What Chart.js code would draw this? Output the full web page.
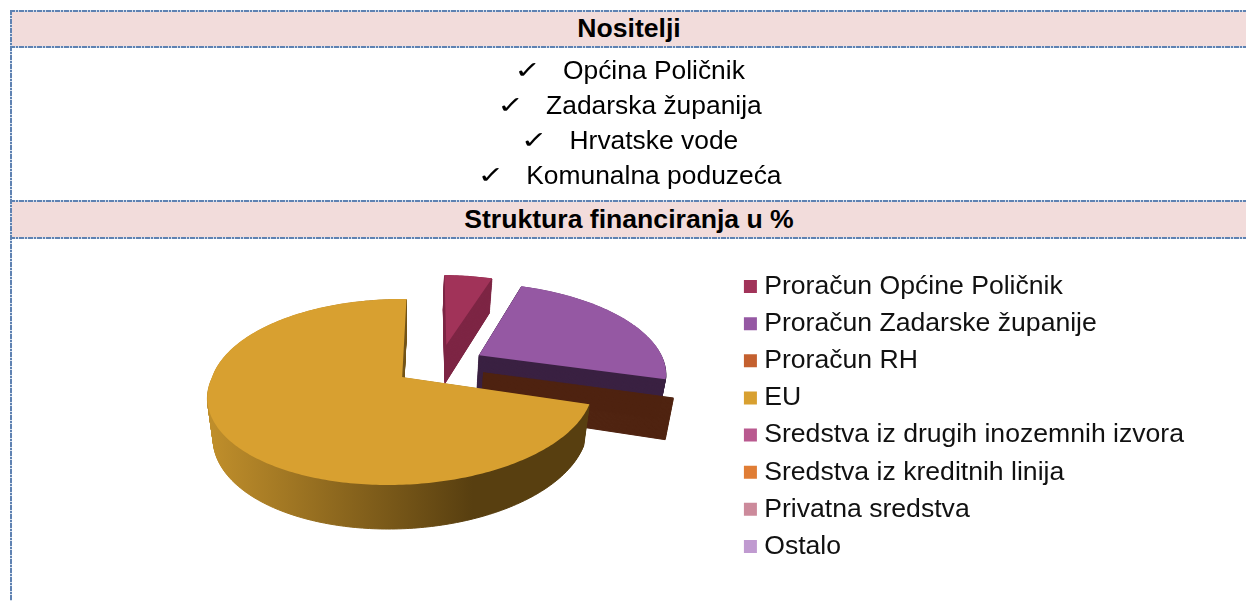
<!DOCTYPE html>
<html>
<head>
<meta charset="utf-8">
<script src="https://cdn.jsdelivr.net/npm/chart.js@4/dist/chart.umd.js"></script>
<style>
  html, body { margin: 0; padding: 0; background: #fff; overflow: hidden; }
  #page { position: relative; width: 1246px; height: 601px; font-family: "Liberation Sans", Arial, sans-serif; color: #000; }
  canvas { position: absolute; left: 0; top: 0; }
  .head { position: absolute; left: 12px; right: 0; background: #f2dcdb; font-weight: bold; font-size: 26.6px; line-height: 35px; height: 36px; text-align: center; }
  .row { position: absolute; left: 13px; right: 0; height: 35px; line-height: 35px; font-size: 26.4px; text-align: center; white-space: nowrap; }
  .row b { display: inline-block; font-family: "DejaVu Sans"; font-weight: normal; font-size: 32px; line-height: 20px; margin-right: 22px; transform: translateY(2px) scaleY(0.75); }
  .h, .v { position: absolute; }
  .h { height: 2px; left: 10px; right: 0;
       background: repeating-linear-gradient(90deg, #5f82b2 0 5px, #d5dfec 5px 6px, #5f82b2 6px 8px, #d5dfec 8px 9px); }
  .v { width: 2px; left: 10px; top: 10px; bottom: 0;
       background: repeating-linear-gradient(180deg, #5f82b2 0 5px, #d5dfec 5px 6px, #5f82b2 6px 8px, #d5dfec 8px 9px); }
</style>
</head>
<body>
<div id="page">
  <canvas id="pie" width="1246" height="601"></canvas>
  <div class="head" style="top:11px">Nositelji</div>
  <div id="rows"></div>
  <div class="head" style="top:202px">Struktura financiranja u %</div>
  <div class="h" style="top:10px"></div>
  <div class="h" style="top:46px"></div>
  <div class="h" style="top:200px"></div>
  <div class="h" style="top:237px"></div>
  <div class="v"></div>
</div>
<script>
const nositelji = ["Općina Poličnik", "Zadarska županija", "Hrvatske vode", "Komunalna poduzeća"];
const categories = [
  "Proračun Općine Poličnik",
  "Proračun Zadarske županije",
  "Proračun RH",
  "EU",
  "Sredstva iz drugih inozemnih izvora",
  "Sredstva iz kreditnih linija",
  "Privatna sredstva",
  "Ostalo",
];
const values = [4.9, 24.1, 0.2, 70.8, 0, 0, 0, 0];
const colors = ["#a13359", "#9558a3", "#c4602f", "#d8a030", "#b9598f", "#e07d35", "#cc8a9b", "#c09ad0"];
const sideColors = ["#7d2544", "#3a2142", "#4f2310", null, null, null, null, null];
// the RH slice is so thin that only its cut face shows
const topColors = ["#a13359", "#9558a3", "#4f2310", "#d8a030", null, null, null, null];
// how far each slice is pulled out of the pie, in units of the radius
const pullU = [0.246, 0.42, 0.43, 0, 0, 0, 0, 0];
const pullV = [-0.375, -0.25, -0.055, 0, 0, 0, 0, 0];

nositelji.forEach((name, i) => {
  const d = document.createElement("div");
  d.className = "row";
  d.style.top = 52.5 + i * 35.3 + "px";
  d.innerHTML = "<b>✓</b>" + name;
  document.getElementById("rows").appendChild(d);
});

// Chart.js lays the slices out, this only draws them tilted with some perspective
const tilted = {
  id: "tilted",
  beforeDatasetsDraw(chart) {
    const ctx = chart.ctx;
    const arcs = chart.getDatasetMeta(0).data;
    const liftY = -39.5, squash = 0.477, k = -0.161, shear = -12 / 190;

    function project(arc, u, v, t) {
      const r = arc.outerRadius;
      const w = 1 + k * v;
      const shrink = 1 - 0.03 * t;
      return [
        arc.x + ((r * u + shear * r * Math.max(v, 0)) / w) * shrink,
        arc.y + liftY + (r * squash * v) / w + t * 40 * (1 + 0.1 * v),
      ];
    }

    function wedge(arc, i, t) {
      const steps = Math.max(2, Math.ceil((arc.endAngle - arc.startAngle) * 60));
      ctx.beginPath();
      let p = project(arc, pullU[i], pullV[i], t);
      ctx.moveTo(p[0], p[1]);
      for (let s = 0; s <= steps; s++) {
        const a = arc.startAngle + ((arc.endAngle - arc.startAngle) * s) / steps;
        p = project(arc, pullU[i] + Math.cos(a), pullV[i] + Math.sin(a), t);
        ctx.lineTo(p[0], p[1]);
      }
      ctx.closePath();
    }

    arcs.forEach((arc, i) => {
      if (!values[i]) return;
      let side = sideColors[i];
      if (!side) {
        side = ctx.createLinearGradient(arc.x - arc.outerRadius, 0, arc.x + 70, 0);
        side.addColorStop(0, "#bf8e2b");
        side.addColorStop(1, "#583f10");
      }
      ctx.fillStyle = side;
      ctx.strokeStyle = side;
      ctx.lineWidth = 1;
      for (let t = 1; t >= 0; t -= 0.02) {
        wedge(arc, i, t);
        ctx.fill();
        ctx.stroke();
      }
      ctx.fillStyle = topColors[i];
      wedge(arc, i, 0);
      ctx.fill();
    });
    return false; // the slices are done, skip the flat pie
  },
};

new Chart(document.getElementById("pie"), {
  type: "pie",
  data: {
    labels: categories,
    datasets: [{ data: values, backgroundColor: colors, borderWidth: 0, radius: 190 }],
  },
  options: {
    responsive: false,
    animation: false,
    rotation: 1.5,
    layout: { padding: { left: 65, right: 52, top: 232, bottom: 0 } },
    plugins: {
      tooltip: { enabled: false },
      legend: {
        position: "right",
        labels: {
          font: { family: "'Liberation Sans', Arial, sans-serif", size: 26.6 },
          color: "#111",
          usePointStyle: true,
          pointStyle: "rect",
          boxWidth: 1,
          boxHeight: 13,
          padding: 10.54,
        },
      },
    },
  },
  plugins: [tilted],
});
</script>
</body>
</html>
